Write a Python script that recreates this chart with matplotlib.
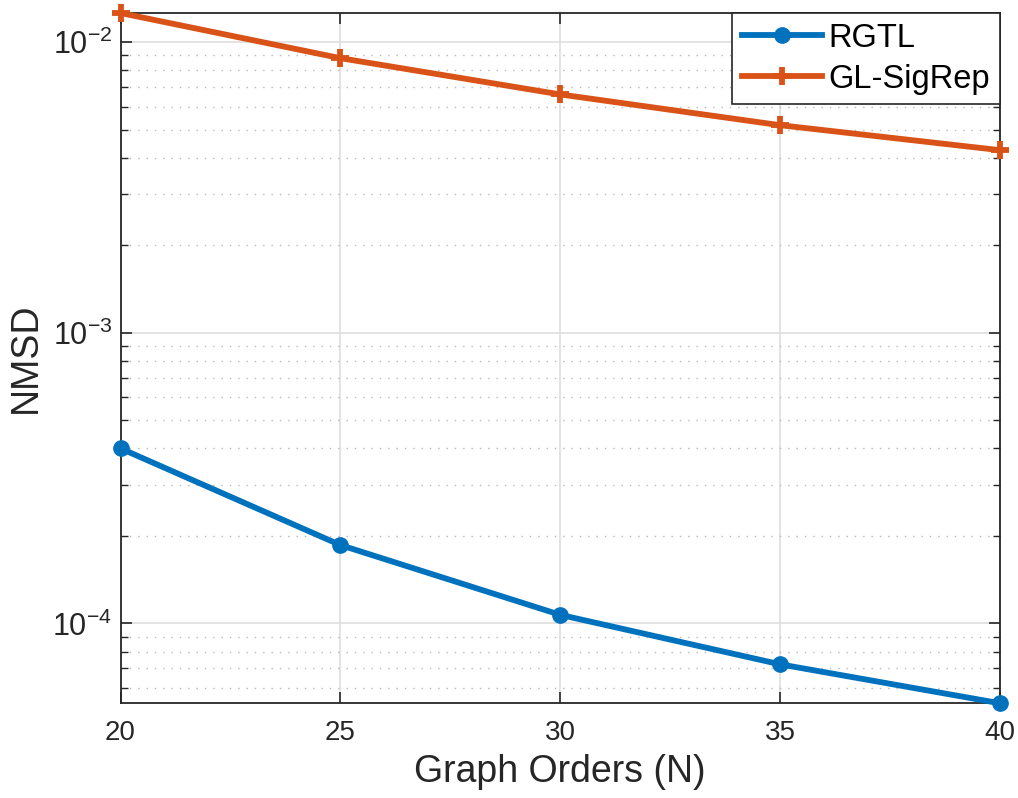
import numpy as np
import matplotlib.pyplot as plt
from matplotlib.ticker import LogLocator, NullFormatter

plt.rcParams['font.family'] = ['Liberation Sans', 'DejaVu Sans']

# Data
graph_orders = [20, 25, 30, 35, 40]
rgtl = [4.0e-4, 1.86e-4, 1.07e-4, 7.23e-5, 5.31e-5]
gl_sigrep = [1.26e-2, 8.81e-3, 6.61e-3, 5.18e-3, 4.25e-3]

fig = plt.figure(figsize=(10.18, 7.98), dpi=100)
ax = fig.add_axes([0.1184, 0.1187, 0.8639, 0.865])

ax.plot(graph_orders, rgtl, color="#0072BD", lw=4.2, marker="o",
        markersize=11, label="RGTL", zorder=3, clip_on=False)
ax.plot(graph_orders, gl_sigrep, color="#D95319", lw=4.2, marker="+",
        markersize=13, markeredgewidth=4.2, label="GL-SigRep", zorder=3,
        clip_on=False)

ax.set_yscale("log")
ax.set_xlim(20, 40)
ax.set_ylim(min(rgtl), max(gl_sigrep))
ax.set_xticks(graph_orders)
ax.yaxis.set_major_locator(LogLocator(base=10))
ax.yaxis.set_minor_locator(LogLocator(base=10, subs=np.arange(2, 10)))
ax.yaxis.set_minor_formatter(NullFormatter())

ax.grid(True, which="major", color="#dedede", lw=1.2, ls="-")
ax.grid(True, which="minor", axis="y", color="#b8b8b8", lw=1.0, ls=(0, (1, 5)))
ax.set_axisbelow(True)

ax.tick_params(which="both", direction="in", top=True, right=True,
               colors="#262626", labelcolor="#262626")
ax.tick_params(which="major", length=8, width=1.2, labelsize=20, pad=12)
ax.tick_params(axis="y", which="major", labelsize=22, pad=6)
ax.tick_params(which="minor", length=5, width=1.0)
for s in ax.spines.values():
    s.set_color("#262626")
    s.set_linewidth(1.3)

ax.set_xlabel("Graph Orders (N)", fontsize=27, color="#262626", labelpad=6)
ax.set_ylabel("NMSD", fontsize=27, color="#262626", labelpad=6)

leg = ax.legend(loc="upper right", fontsize=23.5, frameon=True, fancybox=False,
                borderaxespad=0, handlelength=2.45, handletextpad=0.2,
                borderpad=0.3, labelspacing=0.3, framealpha=1)
leg.get_frame().set_edgecolor("#262626")
leg.get_frame().set_linewidth(1.2)

plt.savefig("out.png", dpi=100)
